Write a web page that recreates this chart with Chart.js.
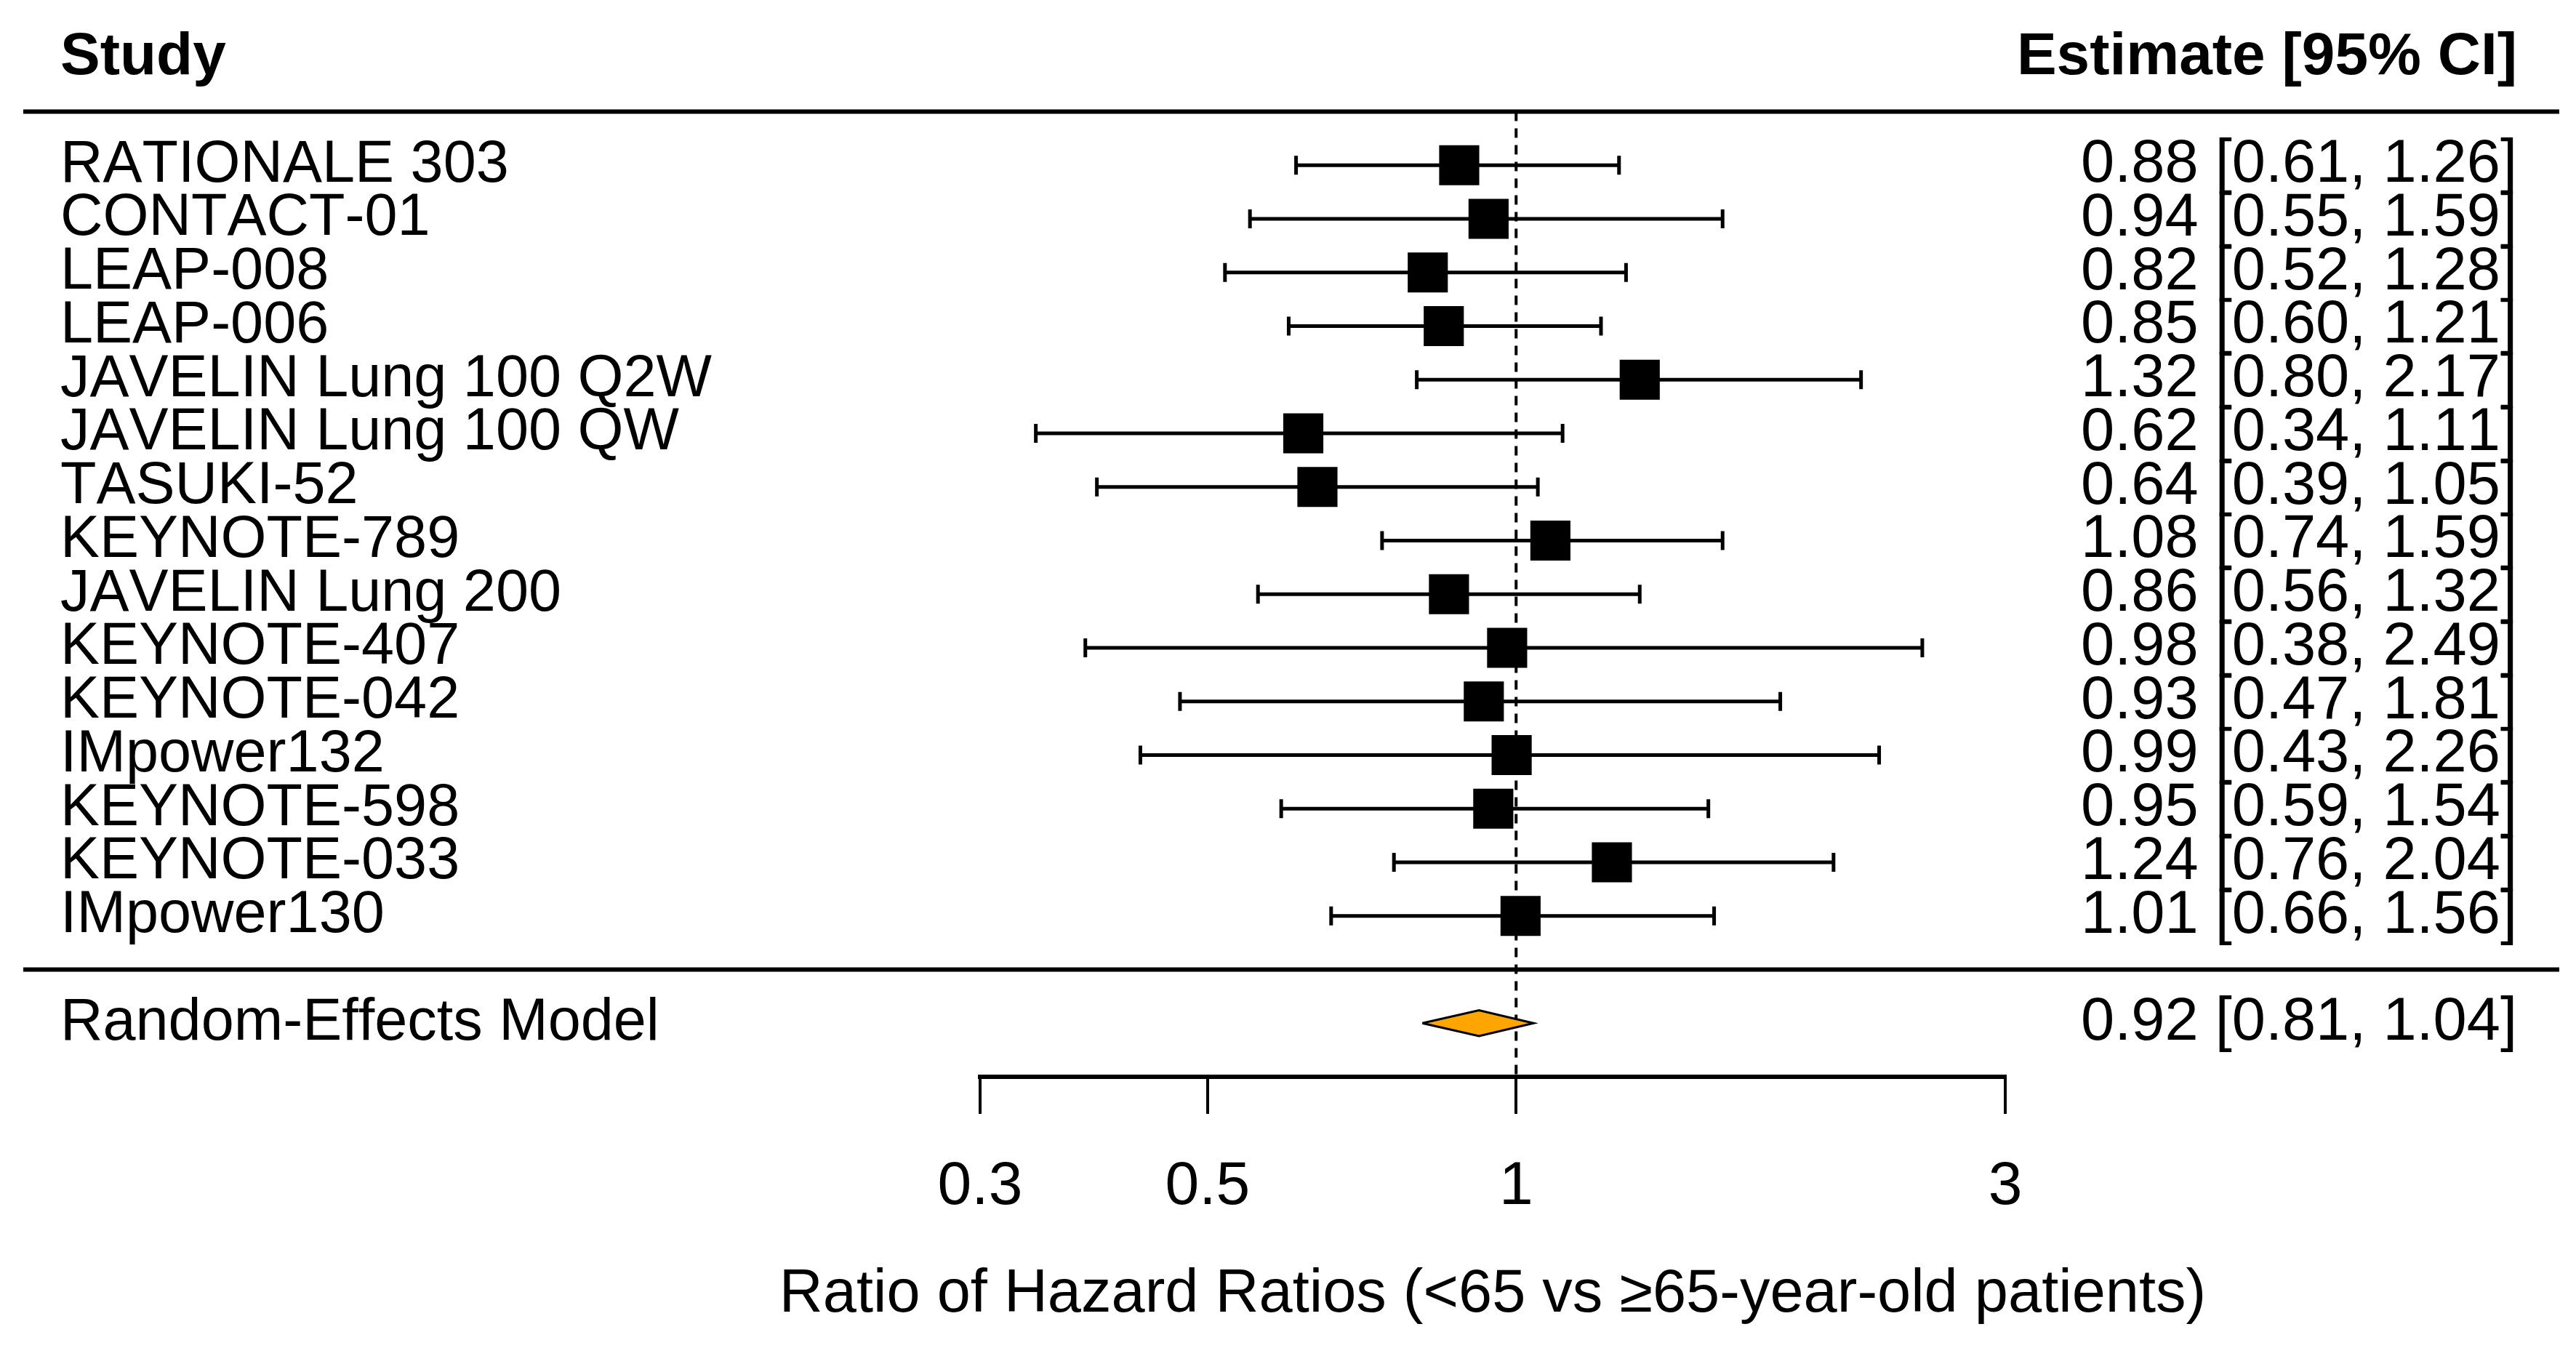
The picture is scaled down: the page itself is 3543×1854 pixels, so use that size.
<!DOCTYPE html>
<html lang="en">
<head>
    <meta charset="UTF-8">
    <title>Ratio of Hazard Ratios forest plot</title>
    <style>
        body {
            margin: 0;
            padding: 0;
            background: #fff;
        }
        .chart-container {
            width: 3543px;
            height: 1854px;
            position: relative;
        }
    </style>
    <script src="https://cdn.jsdelivr.net/npm/chart.js"></script>
</head>
<body>
    <div class="chart-container">
        <canvas id="forestChart"></canvas>
    </div>

    <script>
    const studies = ["RATIONALE 303", "CONTACT-01", "LEAP-008", "LEAP-006", "JAVELIN Lung 100 Q2W",
        "JAVELIN Lung 100 QW", "TASUKI-52", "KEYNOTE-789", "JAVELIN Lung 200", "KEYNOTE-407",
        "KEYNOTE-042", "IMpower132", "KEYNOTE-598", "KEYNOTE-033", "IMpower130"];
    const estimates = [0.88, 0.94, 0.82, 0.85, 1.32, 0.62, 0.64, 1.08, 0.86, 0.98, 0.93, 0.99, 0.95, 1.24, 1.01];
    const lowerCI = [0.61, 0.55, 0.52, 0.60, 0.80, 0.34, 0.39, 0.74, 0.56, 0.38, 0.47, 0.43, 0.59, 0.76, 0.66];
    const upperCI = [1.26, 1.59, 1.28, 1.21, 2.17, 1.11, 1.05, 1.59, 1.32, 2.49, 1.81, 2.26, 1.54, 2.04, 1.56];

    const modelLabel = "Random-Effects Model";
    const modelEstimate = 0.92;
    const modelLower = 0.81;
    const modelUpper = 1.04;

    const tickValues = [0.3, 0.5, 1, 3];
    const tickLabels = ["0.3", "0.5", "1", "3"];
    const refValue = 1;

    const headerLeft = "Study";
    const headerRight = "Estimate [95% CI]";
    const axisTitle = "Ratio of Hazard Ratios (<65 vs \u226565-year-old patients)";

    const FONT = '"Liberation Sans", Arial, sans-serif';
    const fmt = v => v.toFixed(2);

    // row positions like metafor: k..1 for studies, 0 = line, -1 = model
    const k = studies.length;
    const rows = studies.map((s, i) => k - i);
    const headerRow = k + 2;
    const topLineRow = k + 1;
    const modelRow = -1;

    // error bars as one line dataset, NaN points break the line between studies
    const ciData = [];
    rows.forEach((r, i) => {
        ciData.push({ x: lowerCI[i], y: r }, { x: upperCI[i], y: r }, { x: NaN, y: NaN });
    });

    const diamondH = 0.24;
    const diamond = [
        { x: modelLower, y: modelRow },
        { x: modelEstimate, y: modelRow + diamondH },
        { x: modelUpper, y: modelRow },
        { x: modelEstimate, y: modelRow - diamondH },
        { x: modelLower, y: modelRow }
    ];

    // text columns, separator lines and the axis title
    // (Chart.js squeezes a title wider than the chart area, so it is drawn here)
    const forestText = {
        id: "forestText",
        beforeDatasetsDraw(chart) {
            const ctx = chart.ctx;
            const ys = chart.scales.y;
            ctx.save();
            ctx.strokeStyle = "#000";
            ctx.lineWidth = 6;
            [topLineRow, 0].forEach(r => {
                const y = ys.getPixelForValue(r);
                ctx.beginPath();
                ctx.moveTo(32, y);
                ctx.lineTo(3520, y);
                ctx.stroke();
            });
            ctx.restore();
        },
        afterDraw(chart) {
            const ctx = chart.ctx;
            const ys = chart.scales.y;
            const area = chart.chartArea;
            const leftX = 83, rightX = 3462;
            ctx.save();
            ctx.fillStyle = "#000";
            ctx.textBaseline = "middle";
            ctx.fontKerning = "none";

            ctx.font = "bold 82px " + FONT;
            ctx.textAlign = "left";
            ctx.fillText(headerLeft, leftX, ys.getPixelForValue(headerRow));
            ctx.textAlign = "right";
            ctx.fillText(headerRight, rightX, ys.getPixelForValue(headerRow));

            studies.forEach((s, i) => {
                const y = ys.getPixelForValue(rows[i]);
                ctx.font = "81px " + FONT;
                ctx.textAlign = "left";
                ctx.fillText(s, leftX, y);
                ctx.font = "83px " + FONT;
                ctx.textAlign = "right";
                ctx.fillText(fmt(estimates[i]) + " [" + fmt(lowerCI[i]) + ", " + fmt(upperCI[i]) + "]", rightX, y);
            });

            const my = ys.getPixelForValue(modelRow);
            ctx.font = "81px " + FONT;
            ctx.textAlign = "left";
            ctx.fillText(modelLabel, leftX, my);
            ctx.font = "83px " + FONT;
            ctx.textAlign = "right";
            ctx.fillText(fmt(modelEstimate) + " [" + fmt(modelLower) + ", " + fmt(modelUpper) + "]", rightX, my);

            ctx.font = "83px " + FONT;
            ctx.textAlign = "center";
            ctx.fillText(axisTitle, (area.left + area.right) / 2, area.bottom + 300);
            ctx.restore();
        }
    };

    new Chart(document.getElementById("forestChart"), {
        type: "scatter",
        data: {
            datasets: [
                {
                    label: "Estimates",
                    data: rows.map((r, i) => ({ x: estimates[i], y: r })),
                    pointStyle: "rect",
                    pointRadius: 39,
                    backgroundColor: "#000",
                    borderWidth: 0
                },
                {
                    type: "line",
                    label: "Model",
                    data: diamond,
                    borderColor: "#000",
                    borderWidth: 3,
                    backgroundColor: "#FFA500",
                    fill: "shape",
                    pointRadius: 0,
                    tension: 0
                },
                {
                    type: "line",
                    label: "CI",
                    data: ciData,
                    borderColor: "#000",
                    borderWidth: 5,
                    spanGaps: false,
                    pointStyle: "line",
                    pointRotation: 90,
                    pointRadius: 13,
                    pointBorderWidth: 5,
                    pointBorderColor: "#000",
                    fill: false
                },
                {
                    type: "line",
                    label: "Reference",
                    data: [{ x: refValue, y: topLineRow }, { x: refValue, y: -2 }],
                    borderColor: "#000",
                    borderWidth: 4,
                    borderDash: [13, 10],
                    pointRadius: 0,
                    fill: false
                }
            ]
        },
        options: {
            responsive: true,
            maintainAspectRatio: false,
            animation: false,
            events: [],
            layout: {
                autoPadding: false,
                padding: { left: 1348, right: 785, top: 6, bottom: 0 }
            },
            plugins: {
                legend: { display: false },
                tooltip: { enabled: false }
            },
            scales: {
                x: {
                    type: "logarithmic",
                    min: 0.3,
                    max: 3,
                    afterBuildTicks: axis => {
                        axis.ticks = tickValues.map(v => ({ value: v }));
                    },
                    // fixed room under the plot for tick labels and the title
                    afterFit: axis => {
                        axis.height = 373;
                    },
                    ticks: {
                        autoSkip: false,
                        maxRotation: 0,
                        padding: 50,
                        color: "#000",
                        font: { size: 84, family: FONT },
                        callback: (v, i) => tickLabels[i]
                    },
                    grid: {
                        drawOnChartArea: false,
                        drawTicks: true,
                        tickLength: 51,
                        lineWidth: 4,
                        color: "#000"
                    },
                    border: { display: true, width: 6, color: "#000" },
                    title: { display: false }
                },
                y: {
                    type: "linear",
                    min: -2,
                    max: 18,
                    display: false
                }
            }
        },
        plugins: [forestText]
    });
    </script>
</body>
</html>
